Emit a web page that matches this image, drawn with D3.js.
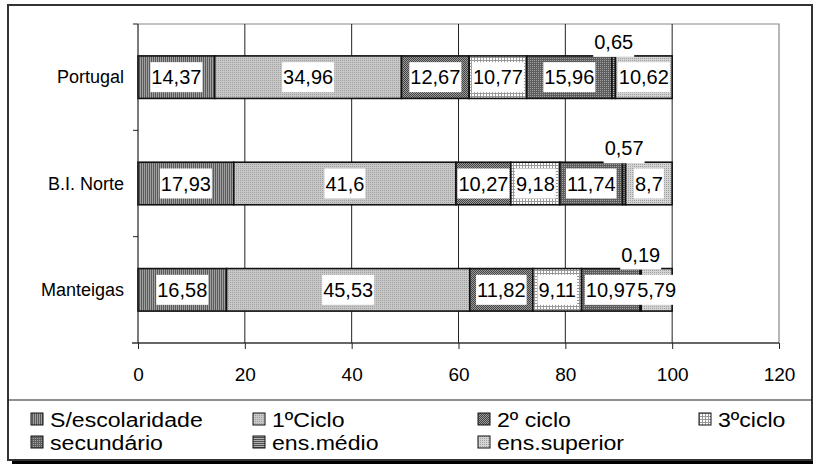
<!DOCTYPE html>
<html>
<head>
<meta charset="utf-8">
<script src="https://cdn.jsdelivr.net/npm/d3@7"></script>
<style>
  body { margin: 0; background: #fff; }
  svg { display: block; font-family: "Liberation Sans", Arial, sans-serif; }
</style>
</head>
<body>
<svg></svg>
<script>
// chart data
var categories = ['Portugal', 'B.I. Norte', 'Manteigas'];
var seriesNames = ['S/escolaridade', '1ºCiclo', '2º ciclo', '3ºciclo', 'secundário', 'ens.médio', 'ens.superior'];
var semEscolaridade = [14.37, 17.93, 16.58];
var primeiroCiclo = [34.96, 41.6, 45.53];
var segundoCiclo = [12.67, 10.27, 11.82];
var terceiroCiclo = [10.77, 9.18, 9.11];
var secundario = [15.96, 11.74, 10.97];
var ensMedio = [0.65, 0.57, 0.19];
var ensSuperior = [10.62, 8.7, 5.79];
var xTicks = [0, 20, 40, 60, 80, 100, 120];

var seriesValues = [semEscolaridade, primeiroCiclo, segundoCiclo, terceiroCiclo, secundario, ensMedio, ensSuperior];

var width = 813;
var height = 464;
var plot = {left: 138, right: 779, top: 24, bottom: 343};

var svg = d3.select('svg')
    .attr('width', width)
    .attr('height', height);

// patterns, one per series (grayscale like the original)
var defs = svg.append('defs');
function pat(id, w, h, bg, cells) {
  var p = defs.append('pattern')
      .attr('id', id)
      .attr('patternUnits', 'userSpaceOnUse')
      .attr('width', w)
      .attr('height', h);
  p.append('rect').attr('width', w).attr('height', h).attr('fill', bg);
  cells.forEach(function(c) {
    p.append('rect').attr('x', c[0]).attr('y', c[1]).attr('width', c[2]).attr('height', c[3]).attr('fill', c[4]);
  });
}
pat('p0', 2, 2, '#a0a0a0', [[1, 0, 1, 2, '#5a5a5a']]);
pat('p1', 2, 2, '#c8c8c8', [[0, 0, 1, 1, '#a0a0a0']]);
pat('p2', 2, 2, '#9a9a9a', [[0, 0, 1, 1, '#444'], [1, 1, 1, 1, '#444']]);
pat('p3', 3, 3, '#fff', [[0, 0, 3, 1, '#999'], [0, 0, 1, 3, '#999']]);
pat('p4', 2, 2, '#5e5e5e', [[0, 0, 1, 1, '#a0a0a0']]);
pat('p5', 2, 2, '#b0b0b0', [[0, 1, 2, 1, '#505050']]);
pat('p6', 2, 2, '#d4d4d4', [[0, 0, 1, 1, '#a0a0a0']]);

// outer chart border + shadow
svg.append('rect')
    .attr('x', 12).attr('y', 459).attr('width', width - 12).attr('height', 5)
    .attr('fill', '#000');
svg.append('rect')
    .attr('x', 8).attr('y', 5).attr('width', 804).attr('height', 455)
    .attr('fill', 'none').attr('stroke', '#333').attr('stroke-width', 2);

var xScale = d3.scaleLinear()
    .domain([0, 120])
    .range([plot.left, plot.right]);

var yScale = d3.scaleBand()
    .domain(categories)
    .range([plot.top, plot.bottom]);

var barH = yScale.bandwidth() * 0.4;

// plot area border (grey)
svg.append('path')
    .attr('d', 'M' + plot.left + ',' + plot.top + 'H' + plot.right + 'V' + plot.bottom)
    .attr('fill', 'none')
    .attr('stroke', '#888')
    .attr('stroke-width', 1.2);

// vertical gridlines
svg.append('g')
  .selectAll('line')
  .data(xTicks.slice(1, -1))
  .enter()
  .append('line')
    .attr('x1', d => xScale(d)).attr('x2', d => xScale(d))
    .attr('y1', plot.top).attr('y2', plot.bottom)
    .attr('stroke', '#222')
    .attr('stroke-width', 1);

// stack the data
var rows = categories.map(function(c, i) {
  var r = {cat: c};
  seriesNames.forEach(function(s, j) { r[s] = seriesValues[j][i]; });
  return r;
});
var stacked = d3.stack().keys(seriesNames)(rows);

var layers = svg.append('g')
  .selectAll('g')
  .data(stacked)
  .enter()
  .append('g')
    .attr('fill', (d, i) => 'url(#p' + i + ')');

layers.selectAll('rect')
  .data(d => d)
  .enter()
  .append('rect')
    .attr('x', d => xScale(d[0]))
    .attr('y', d => yScale(d.data.cat) + (yScale.bandwidth() - barH) / 2)
    .attr('width', d => xScale(d[1]) - xScale(d[0]))
    .attr('height', barH)
    .attr('stroke', '#111')
    .attr('stroke-width', 1.6);

// axes
var xAxis = d3.axisBottom(xScale).tickValues(xTicks).tickSize(6).tickPadding(19);
var gx = svg.append('g')
    .attr('transform', 'translate(0,' + plot.bottom + ')')
    .call(xAxis);
gx.select('.domain').attr('d', 'M' + (plot.left - 6) + ',0H' + plot.right).attr('stroke', '#333').attr('stroke-width', 1.5);
gx.selectAll('.tick line').attr('stroke', '#222');
gx.selectAll('.tick text')
    .style('font-size', '19px')
    .style('font-family', '"Liberation Sans", Arial, sans-serif')
    .attr('fill', '#000');

var gy = svg.append('g')
    .attr('transform', 'translate(' + plot.left + ',0)');
gy.append('line')
    .attr('y1', plot.top).attr('y2', plot.bottom)
    .attr('stroke', '#222').attr('stroke-width', 1.2);
// category boundary ticks
gy.selectAll('line.tk')
  .data(categories.map(c => yScale(c)))
  .enter()
  .append('line')
    .attr('class', 'tk')
    .attr('x1', -5).attr('x2', 0)
    .attr('y1', d => d).attr('y2', d => d)
    .attr('stroke', '#222');
gy.selectAll('text')
  .data(categories)
  .enter()
  .append('text')
    .attr('x', -14)
    .attr('y', d => yScale(d) + yScale.bandwidth() / 2)
    .attr('dy', '0.35em')
    .attr('text-anchor', 'end')
    .style('font-size', '18px')
    .text(d => d);

// data labels with white boxes
var fmt = v => String(v).replace('.', ',');
var labels = svg.append('g');
stacked.forEach(function(layer) {
  layer.forEach(function(d) {
    var v = d[1] - d[0];
    var cx = xScale((d[0] + d[1]) / 2);
    var barTop = yScale(d.data.cat) + (yScale.bandwidth() - barH) / 2;
    var cy = v < 2 ? barTop - 14 : barTop + barH / 2;
    var g = labels.append('g');
    var box = g.append('rect').attr('fill', '#fff');
    var t = g.append('text')
        .attr('x', cx)
        .attr('y', cy)
        .attr('dy', '0.35em')
        .attr('text-anchor', 'middle')
        .style('font-size', '20px')
        .text(fmt(v.toFixed(2) * 1));
    var w = t.node().getComputedTextLength();
    box.attr('x', cx - w / 2 - 1).attr('y', cy - 15).attr('width', w + 2).attr('height', 30);
  });
});

// legend
svg.append('line')
    .attr('x1', 8).attr('x2', 812).attr('y1', 400).attr('y2', 400)
    .attr('stroke', '#222').attr('stroke-width', 1.2);

var legX = [31, 253, 478, 699];
var leg = svg.append('g')
  .selectAll('g')
  .data(seriesNames)
  .enter()
  .append('g')
    .attr('transform', (d, i) => 'translate(' + legX[i % 4] + ',' + (i < 4 ? 413 : 436) + ')');
leg.append('rect')
    .attr('width', 12).attr('height', 12)
    .attr('fill', (d, i) => 'url(#p' + i + ')')
    .attr('stroke', '#111').attr('stroke-width', 1);
// text a little wider than tall, like the original
leg.append('text')
    .attr('transform', 'translate(19,6) scale(1.1,1)')
    .attr('dy', '0.36em')
    .style('font-size', '21px')
    .text(d => d);
</script>
</body>
</html>
